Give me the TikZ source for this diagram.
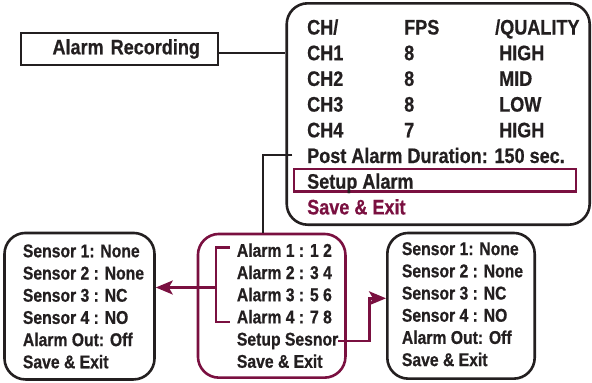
\documentclass[tikz,border=0pt]{standalone}
\usepackage{fontspec}
\newfontfamily\menufont{Liberation Sans}[FakeStretch=0.86, BoldFeatures={FakeBold=0.6}]
\newfontfamily\subfont{Liberation Sans}[FakeStretch=0.85, BoldFeatures={FakeBold=0.6}]
\usetikzlibrary{arrows.meta,calc}
\definecolor{ink}{RGB}{35,31,32}
\definecolor{wine}{RGB}{122,16,64}

\begin{document}
\begin{tikzpicture}
        [x=1pt, y=-1pt,
        big/.style={font=\menufont\bfseries\fontsize{21}{25}\selectfont, text=ink},
        small/.style={font=\subfont\bfseries\fontsize{18.5}{22}\selectfont, text=ink},
        menu/.style={big, inner sep=0pt, anchor=base west},
        sub/.style={small, inner sep=0pt, anchor=base west},
        panel/.style={draw=ink, line width=2.6pt, rounded corners=21pt, inner sep=0pt},
        titlebox/.style={draw=ink, line width=2.4pt},
        hlbox/.style={draw=wine, line width=2.2pt, inner sep=0pt},
        link/.style={ink, line width=2pt},
        redlink/.style={wine, line width=2.4pt},
        redarrow/.style={wine, line width=2.4pt, -{Stealth[length=17pt, width=14pt, inset=4pt]}}]

        \useasboundingbox (0,0) rectangle (592,383);

        % boxes
        \node[titlebox, big, minimum height=32pt, inner xsep=18pt, text width=161pt, align=right] (arec) at (119.5,48.9) {Alarm Recording};
        \node[panel, minimum width=303pt, minimum height=221.4pt] (main) at (438.2,114) {};
        \node[hlbox, minimum width=281.8pt, minimum height=22.5pt] (hl) at (434.7,180.3) {};
        \node[panel, draw=wine, minimum width=147.5pt, minimum height=143.7pt] (alarm) at (271.7,305.8) {};
        \node[panel, minimum width=150pt, minimum height=146.5pt] (lsen) at (79.5,306.2) {};
        \node[panel, minimum width=147.4pt, minimum height=145.7pt] (rsen) at (461,305.8) {};

        % main menu
        \node[menu] (chh) at (307,34.5) {CH/};
        \node[menu] (fpsh) at (404,34.5) {FPS};
        \node[menu] (qh) at (495,34.5) {/QUALITY};
        \node[menu] (ch1) at (307,60.2) {CH1};
        \node[menu] (fps1) at (404,60.2) {8};
        \node[menu] (q1) at (499,60.2) {HIGH};
        \node[menu] (ch2) at (307,85.9) {CH2};
        \node[menu] (fps2) at (404,85.9) {8};
        \node[menu] (q2) at (499,85.9) {MID};
        \node[menu] (ch3) at (307,111.6) {CH3};
        \node[menu] (fps3) at (404,111.6) {8};
        \node[menu] (q3) at (499,111.6) {LOW};
        \node[menu] (ch4) at (307,137.3) {CH4};
        \node[menu] (fps4) at (404,137.3) {7};
        \node[menu] (q4) at (499,137.3) {HIGH};
        \node[menu] (post) at (307,163) {Post Alarm Duration: 150 sec.};
        \node[menu] (setup) at (307,188.7) {Setup Alarm};
        \node[menu, text=wine] (msave) at (307,214.4) {Save \& Exit};

        % alarm menu
        \node[sub] (a1) at (236.7,256.8) {Alarm 1 : 1 2};
        \node[sub] (a2) at (236.7,279) {Alarm 2 : 3 4};
        \node[sub] (a3) at (236.7,301.2) {Alarm 3 : 5 6};
        \node[sub] (a4) at (236.7,323.4) {Alarm 4 : 7 8};
        \node[sub] (ss) at (236.7,345.6) {Setup Sesnor};
        \node[sub] (asave) at (236.7,367.8) {Save \& Exit};

        % sensor menus
        \node[sub] (l1) at (22.7,257.3) {Sensor 1: None};
        \node[sub] (l2) at (22.7,279.5) {Sensor 2 : None};
        \node[sub] (l3) at (22.7,301.7) {Sensor 3 : NC};
        \node[sub] (l4) at (22.7,323.9) {Sensor 4 : NO};
        \node[sub] (l5) at (22.7,346.1) {Alarm Out: Off};
        \node[sub] (l6) at (22.7,368.3) {Save \& Exit};
        \node[sub] (r1) at (401.7,255.1) {Sensor 1: None};
        \node[sub] (r2) at (401.7,277.3) {Sensor 2 : None};
        \node[sub] (r3) at (401.7,299.5) {Sensor 3 : NC};
        \node[sub] (r4) at (401.7,321.7) {Sensor 4 : NO};
        \node[sub] (r5) at (401.7,343.9) {Alarm Out: Off};
        \node[sub] (r6) at (401.7,366.1) {Save \& Exit};

        % connectors
        \draw[link] (arec.east |- ch1.west) -- (main.west |- ch1.west);
        \draw[link] ([xshift=7pt]main.west |- post.west) -| ([xshift=-9pt]alarm.north);

        % bracket and red arrows
        \draw[redlink] (229.5,247.3) -| (216,321.7) -- (229.5,321.7);
        \coordinate (brk) at (216,287.5);
        \coordinate (sbend) at (369.3,298.3);
        \draw[redarrow] (brk) -- (brk -| lsen.east);
        \draw[redarrow] (ss.east) -| (sbend) -- (sbend -| rsen.west);

        \end{tikzpicture}
\end{document}
